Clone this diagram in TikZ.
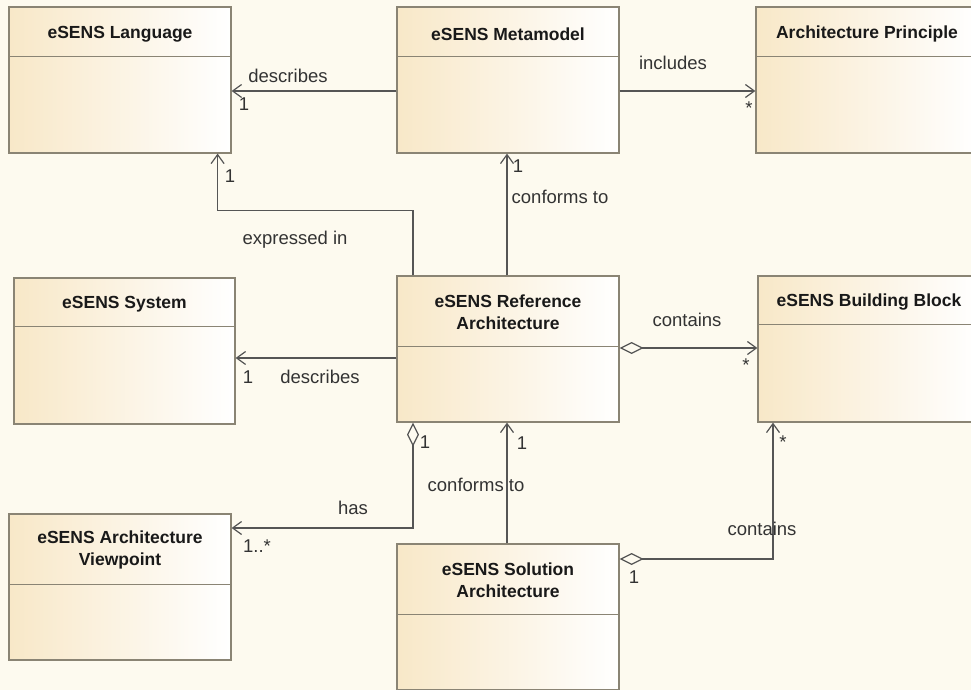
\documentclass[tikz,border=0pt]{standalone}
\usepackage{fontspec}
\setmainfont{Liberation Sans}
\usepackage{tikz}
\usetikzlibrary{arrows.meta}
\definecolor{bgcream}{HTML}{FDFAEF}
\definecolor{boxcream}{HTML}{F8E8C8}
\definecolor{boxline}{HTML}{8A8474}
\definecolor{wire}{HTML}{555555}
\definecolor{labelgray}{HTML}{333333}
\def\headline(#1)(#2){\draw[boxline, line width=1.2pt] ([yshift=-#2pt]#1.north west) -- ([yshift=-#2pt]#1.north east);}

\begin{document}
\begin{tikzpicture}[x=1pt, y=-1pt,
		classbox/.style={draw=boxline, line width=1.2pt, left color=boxcream, right color=white, minimum width=222pt, minimum height=146pt, inner sep=0pt},
		title/.style={font=\fontsize{17.5}{22}\selectfont\bfseries, align=center, text=black!90},
		lbl/.style={font=\fontsize{18.5}{21}\selectfont, text=labelgray, inner sep=0pt},
		assoc/.style={draw=wire, line width=1.2pt, -{Straight Barb[length=9pt, width=13pt]}},
		aggr/.style={draw=wire, line width=1.2pt, {Diamond[open, length=24pt, width=12pt]}-{Straight Barb[length=9pt, width=13pt]}}]
			%%%%% START %%%%%
			
			\clip (0,0) rectangle (971,690);
			\fill[bgcream] (0,0) rectangle (971,690);
			
			% classes
			\node[classbox] (lang) at (120, 80) {};
			\node[classbox] (meta) at (508, 80) {};
			\node[classbox] (princ) at (867, 80) {};
			\node[classbox, minimum width=221pt] (sys) at (124.5, 351) {};
			\node[classbox] (ref) at (508, 349) {};
			\node[classbox] (bb) at (869, 349) {};
			\node[classbox] (view) at (120, 587) {};
			\node[classbox] (sol) at (508, 617) {};
			
			\headline(lang)(50)
			\headline(meta)(50)
			\headline(princ)(50)
			\headline(sys)(49)
			\headline(ref)(71)
			\headline(bb)(49)
			\headline(view)(71)
			\headline(sol)(71)
			
			\node[title] (langT) at ([yshift=-28pt]lang.north) {eSENS Language};
			\node[title] (metaT) at ([yshift=-28pt]meta.north) {eSENS Metamodel};
			\node[title] (princT) at ([yshift=-28pt]princ.north) {Architecture Principle};
			\node[title] (sysT) at ([yshift=-27pt]sys.north) {eSENS System};
			\node[title] (refT) at ([yshift=-37pt]ref.north) {eSENS Reference\\Architecture};
			\node[title] (bbT) at ([yshift=-27pt]bb.north) {eSENS Building Block};
			\node[title] (viewT) at ([yshift=-37pt]view.north) {eSENS Architecture\\Viewpoint};
			\node[title] (solT) at ([yshift=-37pt]sol.north) {eSENS Solution\\Architecture};
			
			% associations
			\draw[assoc] ([yshift=-11pt]meta.west) -- ([yshift=-11pt]lang.east);
			\draw[assoc] ([yshift=-11pt]meta.east) -- ([yshift=-11pt]princ.west);
			\draw[assoc] ([xshift=-95pt]ref.north) -- ++(0,-65) -| ([xshift=-14pt]lang.south east);
			\draw[assoc] ([xshift=-1pt]ref.north) -- ([xshift=-1pt]meta.south);
			\draw[assoc] ([yshift=-9pt]ref.west) -- ([yshift=-9pt]ref.west -| sys.east);
			\draw[aggr] ([yshift=1pt]ref.east) -- ([yshift=1pt]ref.east -| bb.west);
			\draw[aggr] ([xshift=-95pt]ref.south) |- ([yshift=59pt]view.east);
			\draw[assoc] ([xshift=-1pt]sol.north) -- ([xshift=-1pt]ref.south);
			\draw[aggr] ([yshift=58pt]sol.east) -| ([xshift=-96pt]bb.south);
			
			% labels
			\node[lbl] (l1) at (288, 76) {describes};
			\node[lbl] (m1) at (244, 104) {1};
			\node[lbl] (l2) at (673, 63) {includes};
			\node[lbl] (m2) at (749, 108) {*};
			\node[lbl] (m3) at (230, 176) {1};
			\node[lbl] (l3) at (295, 240) {expressed in};
			\node[lbl] (m4) at (518, 166) {1};
			\node[lbl] (l4) at (560, 197) {conforms to};
			\node[lbl] (l5) at (687, 320) {contains};
			\node[lbl] (m5) at (746, 365) {*};
			\node[lbl] (m6) at (248, 377) {1};
			\node[lbl] (l6) at (320, 377) {describes};
			\node[lbl] (m7) at (425, 442) {1};
			\node[lbl] (l7) at (353, 508) {has};
			\node[lbl] (m8) at (257, 546) {1..*};
			\node[lbl] (m9) at (522, 443) {1};
			\node[lbl] (l8) at (476, 485) {conforms to};
			\node[lbl] (m10) at (783, 442) {*};
			\node[lbl] (l9) at (762, 529) {contains};
			\node[lbl] (m11) at (634, 577) {1};
			
			%%%%% END %%%%%
		\end{tikzpicture}
\end{document}
